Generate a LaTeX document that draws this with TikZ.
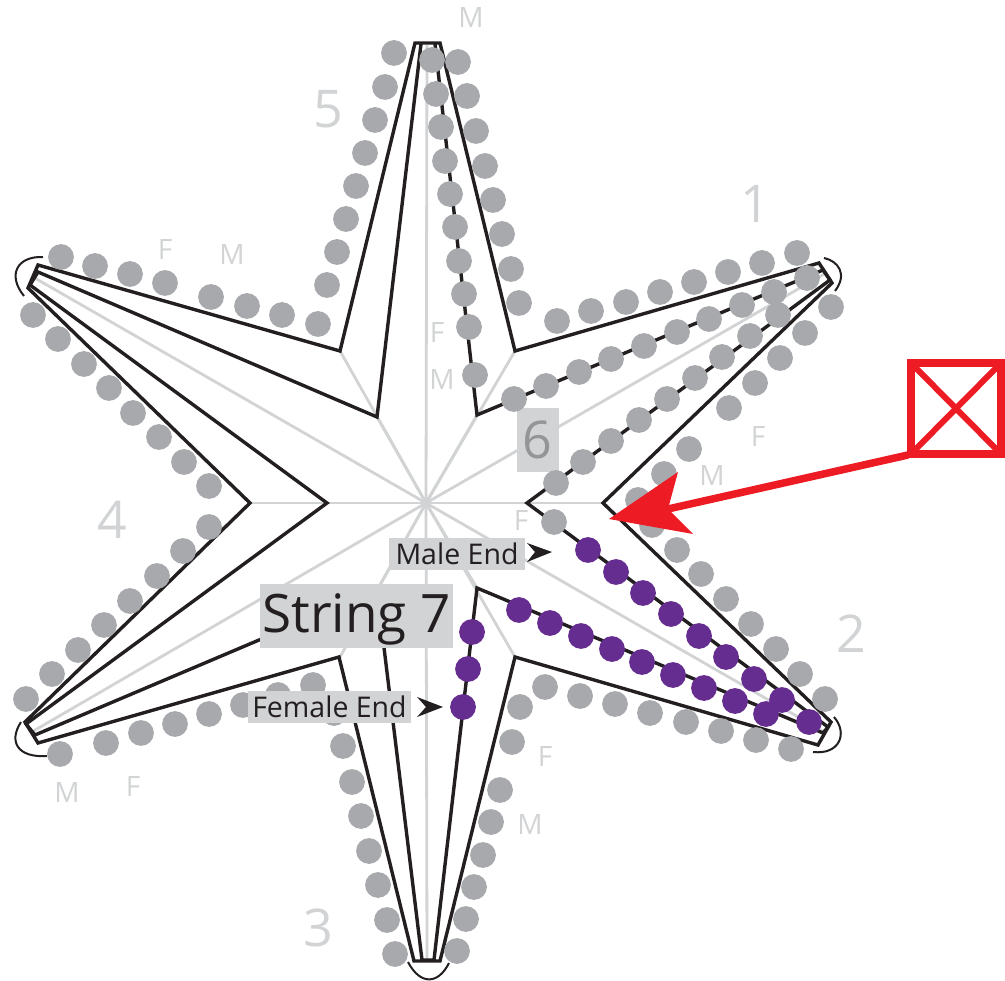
\documentclass[tikz,border=0pt]{standalone}
\usepackage{fontspec}
\setmainfont{Open Sans}
\definecolor{beadgray}{HTML}{A7A9AC}
\definecolor{spoke}{HTML}{D1D3D4}
\definecolor{ink}{HTML}{231F20}
\definecolor{beadpurple}{HTML}{662D91}
\definecolor{markred}{HTML}{ED1C24}
\definecolor{sixgray}{HTML}{939598}
\tikzset{
  spokeline/.style={draw=spoke,line width=2.8pt},
  starline/.style={draw=ink,line width=3.4pt,line join=miter},
  tipcurve/.style={draw=ink,line width=2pt},
  graybead/.style={fill=beadgray},
  purplebead/.style={fill=beadpurple},
  tag/.style={text=spoke,inner sep=0pt,font=\fontsize{28}{30}\selectfont},
  numeral/.style={text=spoke,inner sep=0pt,font=\fontsize{52}{54}\selectfont},
  labelbox/.style={fill=spoke,text=ink,inner sep=0pt,anchor=center},
  redline/.style={draw=markred,line join=miter},
  pointer/.style={fill=ink},
}
\begin{document}
\begin{tikzpicture}[x=1pt,y=-1pt]
\useasboundingbox (0,0) rectangle (1005,981);
\coordinate (c) at (426,503);
% spokes
\foreach \x/\y in {427/45,427/960,250/503,603/503,826/273,826/733,30/733,33/277,340/351,515/351,340/657,515/657,377/417,477/415,377/590,477/588}
  \draw[spokeline] (c) -- (\x,\y);
% box behind the 6
\node[fill=spoke,minimum width=42pt,minimum height=64pt,inner sep=0pt] (six) at (538,440) {};
\node[text=sixgray,inner sep=0pt,font=\fontsize{52}{54}\selectfont] (sixt) at (537,440) {6};
% star outlines
\draw[starline] (415,43) -- (340,351) -- (38,265) -- (28,288) -- (250,503) -- (25,722) -- (38,743) -- (339,657) -- (414,961) -- (440,961) -- (515,657) -- (818,745) -- (831,722) -- (603,503) -- (832,283) -- (819,263) -- (515,351) -- (440,43) -- cycle;
\draw[starline] (421,44) -- (377,417) -- (38,272) -- (30,285) -- (327,503) -- (26,724) -- (35,735) -- (377,590) -- (422,960) -- (434,960) -- (477,588) -- (823,733) -- (828,727) -- (527,503) -- (830,280) -- (823,270) -- (477,415) -- (435,44);
% tip curves
\draw[tipcurve] (824,258) .. controls (838,261) and (848,274) .. (835,291);
\draw[tipcurve] (834,717) .. controls (848,733) and (840,755) .. (813,752);
\draw[tipcurve] (43,257) .. controls (17,256) and (7,275) .. (24,296);
\draw[tipcurve] (21,722) .. controls (8,742) and (18,758) .. (47,756);
\draw[tipcurve] (408,962) .. controls (420,985) and (438,985) .. (449,963);
% gray beads
\foreach \x/\y in {
 394/53,385/87,375/120,365/153,356/186,346/219,337/252,327/285,
 432/60,436/94,441/127,445/161,450/194,455/227,459/261,464/294,469/327,475/375,
 458/62,467/96,476/131,485/166,493/200,502/234,511/269,519/303,
 557/321,591/311,626/302,660/292,694/282,728/272,762/263,797/253,
 514/399,546/386,579/372,611/359,644/346,677/332,709/319,742/305,774/292,807/278,
 556/483,583/462,611/441,639/420,667/399,695/378,722/357,750/336,778/315,
 831/307,805/333,780/358,755/383,729/408,689/449,664/474,638/500,652/525,
 677/550,701/574,726/599,751/624,776/649,800/674,825/699,
 554/522,
 545/687,520/707,512/742,580/696,615/704,650/713,686/722,721/731,756/740,791/749,
 500/790,491/822,483/855,474/887,466/919,457/951,
 343/746,352/782,361/816,369/851,378/885,387/920,395/954,
 334/713,313/685,278/695,243/705,209/714,175/724,141/733,106/743,60/754,
 26/699,52/674,78/650,104/625,130/601,157/576,183/551,209/527,
 33/315,58/339,84/364,109/388,133/413,159/437,184/462,209/486,
 61/257,95/266,130/274,165/283,211/297,247/306,282/315,318/324}
  \fill[graybead] (\x,\y) circle (12.9);
% purple beads
\foreach \x/\y in {
 588/550,616/572,643/593,671/614,699/636,726/657,754/679,782/700,809/722,
 519/610,550/623,581/636,612/649,642/662,673/675,704/688,735/701,766/714,
 472/632,468/669,463/707}
  \fill[purplebead] (\x,\y) circle (12.9);
% letters
\node[tag] (m1) at (471,18) {M};
\node[tag] (f1) at (165,250) {F};
\node[tag] (m2) at (232,255) {M};
\node[tag] (f2) at (437,333) {F};
\node[tag] (m3) at (442,380) {M};
\node[tag] (f3) at (521,521) {F};
\node[tag] (f4) at (758,437) {F};
\node[tag] (m4) at (712,476) {M};
\node[tag] (f5) at (545,757) {F};
\node[tag] (m5) at (530,825) {M};
\node[tag] (m6) at (67,793) {M};
\node[tag] (f6) at (133,787) {F};
% numerals
\node[numeral] (n1) at (755,204) {1};
\node[numeral] (n2) at (851,634) {2};
\node[numeral] (n3) at (318,928) {3};
\node[numeral] (n4) at (112,520) {4};
\node[numeral] (n5) at (328,109) {5};
% labels
\node[labelbox,minimum width=193pt,text height=49pt,text depth=15pt,font=\fontsize{53}{55}\selectfont] (s7) at (356.5,616) {String 7};
\node[labelbox,minimum width=136pt,text height=27pt,text depth=5pt,font=\fontsize{28.5}{30}\selectfont] (male) at (457,554) {Male End};
\node[labelbox,minimum width=163pt,text height=26pt,text depth=6pt,font=\fontsize{28.5}{30}\selectfont] (female) at (329.5,707) {Female End};
% black pointers
\fill[pointer] (527,543) -- (552,552) -- (527,562) -- (535,552) -- cycle;
\fill[pointer] (417,697) -- (443,707) -- (417,717) -- (426,707) -- cycle;
% red marker
\coordinate (rtl) at (911,363);
\coordinate (rbr) at (1001,454);
\draw[redline,line width=6pt] (rtl) -- (rbr);
\draw[redline,line width=6pt] (1001,363) -- (911,454);
\draw[redline,line width=8pt] (rtl) rectangle (rbr);
\draw[redline,line width=7.5pt] (908,455) -- (668,509);
\fill[markred] (609,519) -- (678,472) -- (668,509) -- (693,534) -- cycle;
\end{tikzpicture}
\end{document}
